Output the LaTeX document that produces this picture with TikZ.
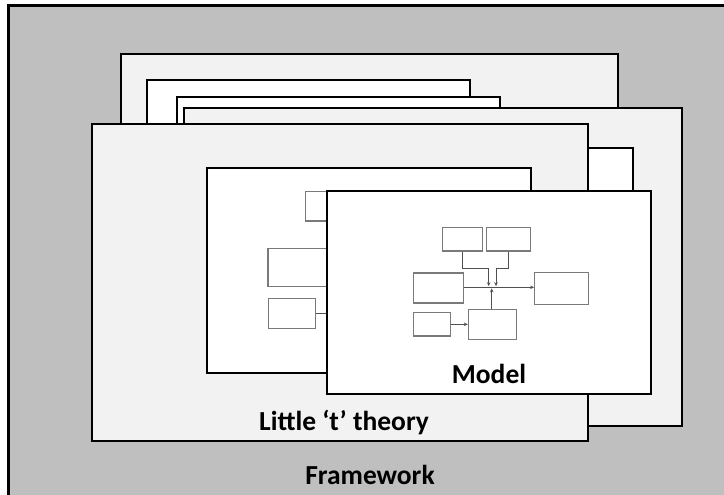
\documentclass[tikz,border=0pt]{standalone}
\usepackage{fontspec}
\setmainfont{Carlito}
\usetikzlibrary{arrows.meta}
\definecolor{bggray}{HTML}{BFBFBF}
\definecolor{lightg}{HTML}{F2F2F2}
\definecolor{boxline}{HTML}{7A7A7A}
\definecolor{conline}{HTML}{505050}
\tikzset{
  sheet/.style={draw=black, line width=2.6pt},
  small/.style={draw=boxline, line width=1.1pt, fill=white, rectangle, inner sep=0pt},
  conn/.style={draw=conline, line width=0.8pt},
  arr/.style={conn, -{Stealth[length=4pt,width=3.5pt]}},
  lbl/.style={font=\fontsize{27.5}{31}\selectfont\bfseries, anchor=base, inner sep=0pt}
}
\begin{document}
\begin{tikzpicture}[x=1pt,y=-1pt]
\useasboundingbox (0,0) rectangle (724,495);
% framework background
\fill[bggray] (8,6) rectangle (730,500);
\draw[black, line width=3pt] (8,500) -- (8,6) -- (730,6);
% back sheets
\draw[sheet, fill=lightg] (121,54) rectangle (618,400);
\draw[sheet, fill=white] (147,80) rectangle (470,380);
\draw[sheet, fill=white] (177,97) rectangle (500,380);
\draw[sheet, fill=lightg] (184,108) rectangle (682,426);
\draw[sheet, fill=white] (400,148) rectangle (633,370);
% little t theory sheet
\draw[sheet, fill=lightg] (92,124) rectangle (588,441);
\node[lbl] (lt) at (344,430) {Little ‘t’ theory};
% inner sheet behind model
\draw[sheet, fill=white] (207,168) rectangle (531,373);
\node[small, minimum width=40pt, minimum height=29.3pt] (g1) at (325.3,206.3) {};
\node[small, minimum width=70pt, minimum height=38pt] (g2) at (303,267.7) {};
\node[small, minimum width=46.7pt, minimum height=29.6pt] (g3) at (291.7,313.5) {};
\coordinate (g3end) at (340,313.7);
\draw[conn] (g3.east |- g3end) -- (g3end);
% model sheet
\draw[sheet, fill=white] (327,191) rectangle (651,394);
\node[lbl] (mod) at (489,383) {Model};
\node[small, minimum width=39.6pt, minimum height=23.3pt] (a) at (462.5,239.3) {};
\node[small, minimum width=43.7pt, minimum height=23.3pt] (b) at (508.2,239.3) {};
\node[small, minimum width=50pt, minimum height=30pt] (c) at (438.3,288) {};
\node[small, minimum width=53.6pt, minimum height=31.6pt] (d) at (561.5,288.5) {};
\node[small, minimum width=36.7pt, minimum height=23.3pt] (e) at (431.7,324.3) {};
\node[small, minimum width=47.7pt, minimum height=30pt] (f) at (492.2,324.3) {};
\coordinate (ya) at (0,268.7);
\coordinate (ja) at (488.7,286.2);
\coordinate (jb) at (496,286.2);
\coordinate (jf) at (491.7,288.3);
\draw[arr] (c.east |- 0,287.3) -- (d.west |- 0,287.3);
\draw[arr] (a.south) |- (ja |- ya) -- (ja);
\draw[arr] ([xshift=0.5pt]b.south) |- (jb |- ya) -- (jb);
\draw[arr] (f.north -| jf) -- (jf);
\draw[arr] (e.east) -- (f.west |- e.east);
% framework label
\node[lbl] (fw) at (370,484) {Framework};
\end{tikzpicture}
\end{document}
